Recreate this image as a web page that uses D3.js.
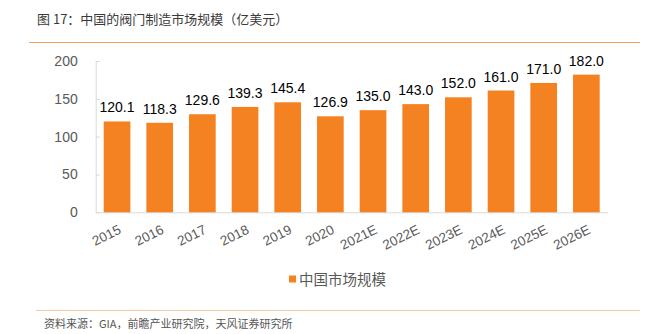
<!DOCTYPE html>
<html><head><meta charset="utf-8">
<script src="https://cdn.jsdelivr.net/npm/d3@7"></script>
<style>body{margin:0;background:#fff;} svg{display:block;}</style>
</head><body>
<svg id="c" width="649" height="334"></svg>
<script>
const categories = ["2015","2016","2017","2018","2019","2020","2021E","2022E","2023E","2024E","2025E","2026E"];
const values = [120.1,118.3,129.6,139.3,145.4,126.9,135.0,143.0,152.0,161.0,171.0,182.0];
const yTicks = [0,50,100,150,200];
const seriesName = "中国市场规模";
const title = "图 17：中国的阀门制造市场规模（亿美元）";
const source = "资料来源：GIA，前瞻产业研究院，天风证券研究所";

const svg = d3.select("#c");
const cjk = "'Noto Sans CJK SC', 'Noto Sans', sans-serif";
const latin = "'Liberation Sans', Arial, sans-serif";

// title
svg.append("text").attr("x",37).attr("y",24).text(title)
  .attr("font-family",cjk).attr("font-size",13).attr("fill","#3a3a3a");
svg.append("line").attr("x1",29).attr("x2",640).attr("y1",42.5).attr("y2",42.5)
  .attr("stroke","#f0a35e").attr("stroke-width",1.2);

const x = d3.scaleBand().domain(categories).range([95.7,607.7]).paddingInner(0.375).paddingOuter(0.1875);
const y = d3.scaleLinear().domain([0,200]).range([212.3,61]);

// y axis
const ya = svg.append("g").attr("transform","translate(95.7,0)")
  .call(d3.axisLeft(y).tickValues(yTicks).tickSizeInner(-4).tickSizeOuter(0).tickPadding(18));
ya.select(".domain").attr("stroke","#d9d9d9");
ya.selectAll(".tick line").attr("stroke","#d9d9d9");
ya.selectAll("text").attr("font-family",latin).attr("font-size",14).attr("fill","#595959");

// x axis
const xa = svg.append("g").attr("transform","translate(0,212.3)")
  .call(d3.axisBottom(x).tickSize(0).tickSizeOuter(0));
xa.select(".domain").attr("stroke","#d9d9d9");
xa.selectAll("text").attr("font-family",latin).attr("font-size",13.5).attr("fill","#595959")
  .attr("text-anchor","end").attr("dy",0).attr("y",0)
  .attr("transform","translate(5,20.5) rotate(-26)");

// bars
svg.append("g").selectAll("rect").data(values).join("rect")
  .attr("x",(d,i)=>x(categories[i])).attr("width",x.bandwidth())
  .attr("y",d=>y(d)).attr("height",d=>y(0)-y(d)).attr("fill","#f58220");

// labels
svg.append("g").selectAll("text").data(values).join("text")
  .attr("x",(d,i)=>x(categories[i])+x.bandwidth()/2).attr("y",d=>y(d)-9)
  .attr("text-anchor","middle").attr("font-family",latin).attr("font-size",14).attr("fill","#000")
  .text(d=>d.toFixed(1));

// legend
svg.append("rect").attr("x",289).attr("y",275.5).attr("width",7).attr("height",7).attr("fill","#f58220");
svg.append("text").attr("x",299).attr("y",284.5).text(seriesName)
  .attr("font-family",cjk).attr("font-size",14.5).attr("fill","#595959");

// bottom rule and source
svg.append("line").attr("x1",36).attr("x2",640).attr("y1",310.5).attr("y2",310.5)
  .attr("stroke","#f8c8a0").attr("stroke-width",1);
svg.append("text").attr("x",44).attr("y",328).text(source)
  .attr("font-family",cjk).attr("font-size",11).attr("fill","#555");
</script>
</body></html>
